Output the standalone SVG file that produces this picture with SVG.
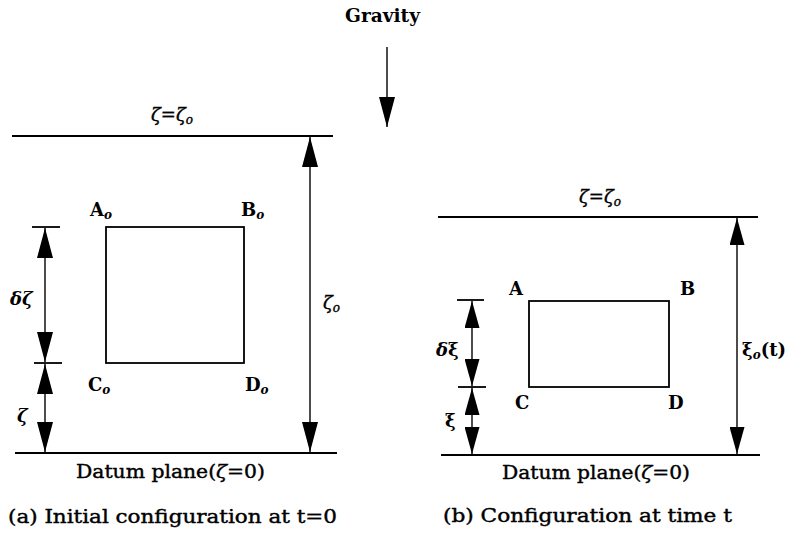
<svg xmlns="http://www.w3.org/2000/svg" width="792" height="537" viewBox="0 0 792 537">
<style>
  text { font-family: "DejaVu Serif", "Liberation Serif", serif; font-size: 18px; fill: #000; stroke: #000; stroke-width: 0.4; }
  .b { font-weight: bold; stroke-width: 0; }
  .g { font-style: italic; }
  .sub { font-style: italic; font-size: 12px; }
  .plane { stroke: #000; stroke-width: 2; fill: none; }
  .box { stroke: #000; stroke-width: 1.8; fill: none; }
  .dim { stroke: #000; stroke-width: 1.4; fill: none; }
  .tick { stroke: #000; stroke-width: 1.8; fill: none; }
</style>
<defs>
  <marker id="ah" viewBox="0 0 30 16" refX="30" refY="8" markerWidth="30" markerHeight="16" markerUnits="userSpaceOnUse" orient="auto-start-reverse">
    <path d="M0,0 L30,8 L0,16 Z" fill="#000"/>
  </marker>
  <marker id="ahs" viewBox="0 0 27 15" refX="27" refY="7.5" markerWidth="27" markerHeight="15" markerUnits="userSpaceOnUse" orient="auto-start-reverse">
    <path d="M0,0 L27,7.5 L0,15 Z" fill="#000"/>
  </marker>
</defs>

<g id="gravity">
  <text x="345" y="22" class="b" font-size="16" textLength="75" lengthAdjust="spacingAndGlyphs">Gravity</text>
</g>

<!-- Panel (a) -->
<g id="a-top-plane">
  <line class="plane" x1="12" y1="136" x2="333" y2="136"/>
  <text x="172" y="121" text-anchor="middle"><tspan class="g">ζ</tspan>=<tspan class="g">ζ</tspan><tspan class="sub" dy="3">o</tspan></text>
</g>
<g id="a-datum-plane">
  <line class="plane" x1="15" y1="453" x2="337" y2="453"/>
  <text x="76" y="478" textLength="189" lengthAdjust="spacingAndGlyphs">Datum plane(<tspan class="g">ζ</tspan>=0)</text>
</g>
<g id="a-element">
  <rect class="box" x="106" y="227" width="138" height="136"/>
  <text x="90" y="216" class="b" font-size="17">A<tspan class="sub" dy="3">o</tspan></text>
  <text x="241" y="216" class="b" font-size="17">B<tspan class="sub" dy="3">o</tspan></text>
  <text x="88" y="391" class="b" font-size="17">C<tspan class="sub" dy="3">o</tspan></text>
  <text x="245" y="391" class="b" font-size="17">D<tspan class="sub" dy="3">o</tspan></text>
</g>
<g id="a-labels">
  <text x="10" y="305" class="b" font-size="17"><tspan class="g">δζ</tspan></text>
  <text x="17" y="422" class="b" font-size="17"><tspan class="g">ζ</tspan></text>
  <text x="323" y="309"><tspan class="g">ζ</tspan><tspan class="sub" dy="3">o</tspan></text>
</g>
<g id="a-caption">
  <text x="8" y="523" textLength="329" lengthAdjust="spacingAndGlyphs">(a) Initial configuration at t=0</text>
</g>

<!-- Panel (b) -->
<g id="b-top-plane">
  <line class="plane" x1="438" y1="217" x2="758" y2="217"/>
  <text x="600" y="203" text-anchor="middle"><tspan class="g">ζ</tspan>=<tspan class="g">ζ</tspan><tspan class="sub" dy="3">o</tspan></text>
</g>
<g id="b-datum-plane">
  <line class="plane" x1="441" y1="455" x2="760" y2="455"/>
  <text x="502" y="479" textLength="188" lengthAdjust="spacingAndGlyphs">Datum plane(<tspan class="g">ζ</tspan>=0)</text>
</g>
<g id="b-element">
  <rect class="box" x="529" y="301" width="140" height="86"/>
  <text x="509" y="295" class="b" font-size="17">A</text>
  <text x="680" y="295" class="b" font-size="17">B</text>
  <text x="515" y="409" class="b" font-size="17">C</text>
  <text x="668" y="409" class="b" font-size="17">D</text>
</g>
<g id="b-labels">
  <text x="436" y="356" class="b" font-size="17"><tspan class="g">δ</tspan>ξ</text>
  <text x="445" y="427" class="b" font-size="17">ξ</text>
  <text x="742" y="356" class="b" font-size="17">ξ<tspan class="sub" dy="3">o</tspan><tspan dy="-3">(t)</tspan></text>
</g>
<g id="b-caption">
  <text x="443" y="522" textLength="289" lengthAdjust="spacingAndGlyphs">(b) Configuration at time t</text>
</g>

<g id="connectors">
  <line class="dim" x1="387" y1="47" x2="387" y2="127" marker-end="url(#ah)"/>
  <!-- panel a -->
  <line class="dim" x1="310" y1="137" x2="310" y2="452" marker-start="url(#ah)" marker-end="url(#ah)"/>
  <line class="tick" x1="32" y1="227" x2="60" y2="227"/>
  <line class="tick" x1="34" y1="363" x2="62" y2="363"/>
  <line class="dim" x1="45" y1="228" x2="45" y2="362" marker-start="url(#ah)" marker-end="url(#ah)"/>
  <line class="dim" x1="45" y1="364" x2="45" y2="452" marker-start="url(#ah)" marker-end="url(#ah)"/>
  <!-- panel b -->
  <line class="dim" x1="737" y1="218" x2="737" y2="454" marker-start="url(#ahs)" marker-end="url(#ahs)"/>
  <line class="tick" x1="457" y1="300" x2="484" y2="300"/>
  <line class="tick" x1="458" y1="387" x2="486" y2="387"/>
  <line class="dim" x1="472" y1="301" x2="472" y2="386" marker-start="url(#ahs)" marker-end="url(#ahs)"/>
  <line class="dim" x1="472" y1="388" x2="472" y2="454" marker-start="url(#ahs)" marker-end="url(#ahs)"/>
</g>
</svg>
